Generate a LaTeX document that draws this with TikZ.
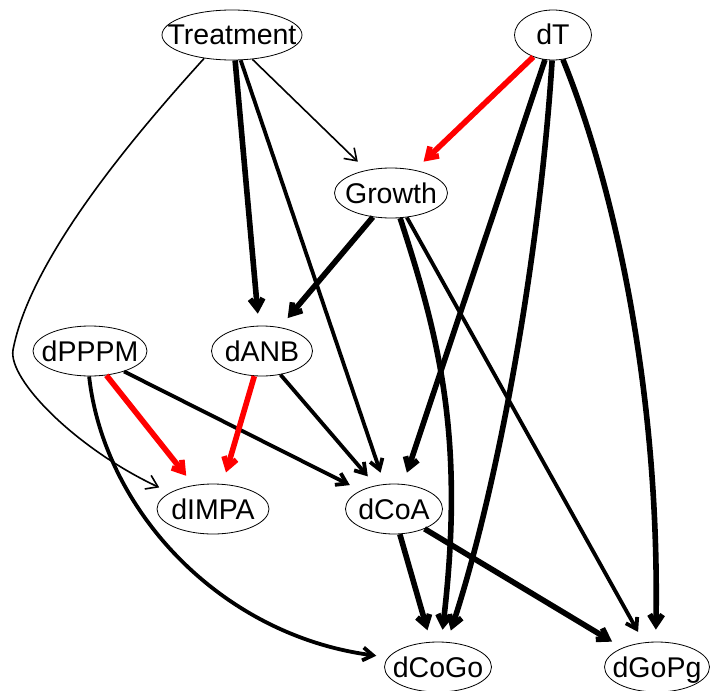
\documentclass[tikz,border=0pt]{standalone}
\usepackage{fontspec}
\setmainfont{Liberation Sans}
\usetikzlibrary{shapes.geometric,arrows.meta}

\begin{document}
\begin{tikzpicture}[x=1pt,y=-1pt,
  var/.style={ellipse,draw,line width=0.8pt,inner sep=0pt,minimum height=50pt,text height=20pt,text depth=0pt,font=\fontsize{28.5}{32}\selectfont},
  wk/.style={-{Straight Barb[length=11pt,width=15pt]},line width=1.6pt,shorten >=12pt},
  md/.style={->,line width=3.8pt,shorten >=12pt},
  st/.style={->,line width=5.6pt,shorten >=12pt},
  >={Straight Barb[length=10pt,width=13pt]}]

\useasboundingbox (0,0) rectangle (711,690);

\node [var,minimum width=140pt] (treat) at (232,35) {\makebox[0pt]{Treatment}};
\node [var,minimum width=77pt] (dT) at (553,35) {\makebox[0pt]{dT}};
\node [var,minimum width=113pt] (growth) at (391,193) {\makebox[0pt]{Growth}};
\node [var,minimum width=114pt] (dPPPM) at (90,351) {\makebox[0pt]{dPPPM}};
\node [var,minimum width=101pt] (dANB) at (262,351) {\makebox[0pt]{dANB}};
\node [var,minimum width=112pt] (dIMPA) at (213,509) {\makebox[0pt]{dIMPA}};
\node [var,minimum width=97pt] (dCoA) at (394,509) {\makebox[0pt]{dCoA}};
\node [var,minimum width=107pt] (dCoGo) at (438,667) {\makebox[0pt]{dCoGo}};
\node [var,minimum width=105pt] (dGoPg) at (657,667) {\makebox[0pt]{dGoPg}};

\draw [wk] (treat.310) -- (growth.137);
\draw [wk] (treat.220) .. controls (130,140) and (30,260) .. (13,350) .. controls (8,380) and (77,449) .. (dIMPA.159);
\draw [st] (treat.277) -- (dANB.97);
\draw [md] (treat.289) -- (dCoA.111);

\draw [st,red] (dT.228) -- (growth.44);
\draw [st] (dT.252) -- (dCoA.70);
\draw [st] (dT.268) .. controls (540,250) and (500,480) .. (dCoGo.70);
\draw [st] (dT.292) .. controls (610,175) and (660,380) .. (dGoPg.93);

\draw [st] (growth.233) -- (dANB.53);
\draw [st] (growth.290) .. controls (440,340) and (465,440) .. (dCoGo.83);
\draw [md] (growth.303) -- (dGoPg.118);

\draw [st,red] (dPPPM.304) -- (dIMPA.129);
\draw [md] (dPPPM.329) -- (dCoA.151);
\draw [md] (dPPPM.268) .. controls (104,510) and (220,635) .. (dCoGo.169);

\draw [st,red] (dANB.253) -- (dIMPA.69);
\draw [md] (dANB.308) -- (dCoA.128);

\draw [st] (dCoA.283) -- (dCoGo.106);
\draw [st] (dCoA.327) -- (dGoPg.151);

\end{tikzpicture}
\end{document}
